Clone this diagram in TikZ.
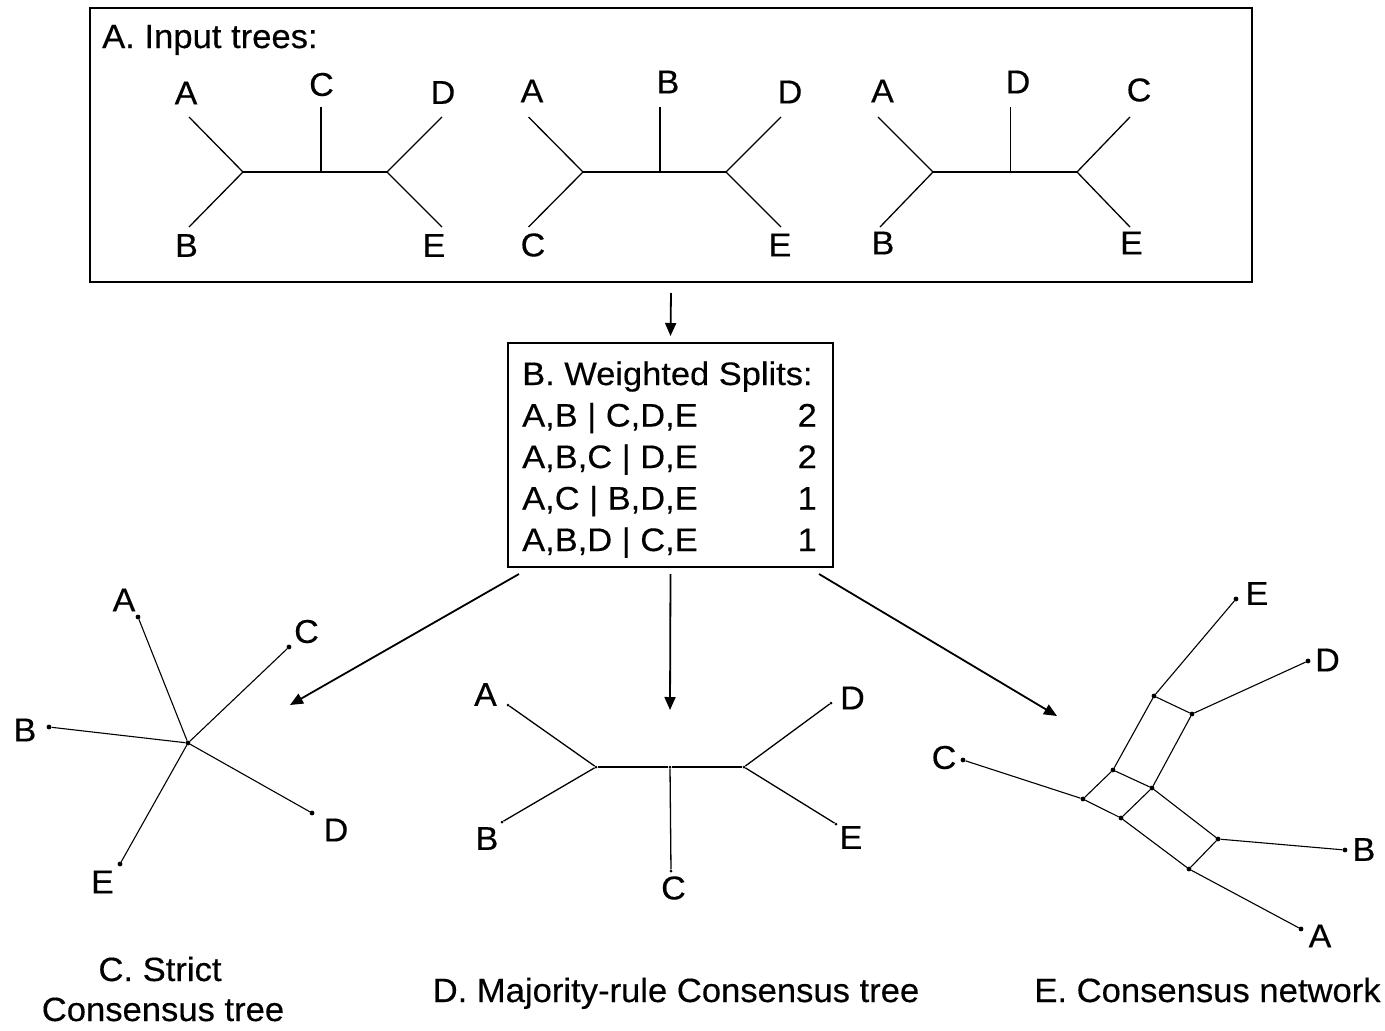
\documentclass[tikz,border=0pt]{standalone}
\usepackage{fontspec}
\setmainfont{Liberation Sans}[FakeStretch=1.03,FakeBold=0.35]
\newfontfamily\splitfont{Liberation Sans}[FakeStretch=1.06,FakeBold=0.35]
\usetikzlibrary{arrows.meta}
\begin{document}
\begin{tikzpicture}[x=1pt,y=-1pt,
  lbl/.style={inner sep=0pt, font=\fontsize{33}{39}\selectfont},
  captxt/.style={inner sep=0pt, anchor=base, font=\fontsize{33.6}{40}\selectfont},
  spl/.style={inner sep=0pt, font=\splitfont\fontsize{32.5}{38}\selectfont},
  br/.style={line width=1.3pt},
  tn/.style={line width=1.1pt},
  dot/.style={circle, fill, inner sep=0pt, minimum size=4.8pt},
  sdot/.style={circle, fill, inner sep=0pt, minimum size=3pt},
  arr/.style={line width=1.8pt, -{Triangle[length=13pt,width=11pt]}},
  frame/.style={draw, line width=2pt, inner sep=0pt}
]
\useasboundingbox (0,0) rectangle (1385,1031);

% ---------- Box A ----------
\node[frame, minimum width=1162pt, minimum height=274pt] (boxA) at (671,145) {};
\node[captxt, anchor=base west] (titleA) at (102,48) {A. Input trees:};

% tree 1
\coordinate (t1A) at (189,117); \coordinate (t1B) at (189,227);
\coordinate (t1L) at (243,172); \coordinate (t1M) at (321,172);
\coordinate (t1T) at (321,107); \coordinate (t1R) at (387,172);
\coordinate (t1D) at (442,117); \coordinate (t1E) at (442,227);
\draw[br] (t1A) -- (t1L) -- (t1B);
\draw[br] (t1L) -- (t1R);
\draw[br] (t1M) -- (t1T);
\draw[br] (t1D) -- (t1R) -- (t1E);
\node[lbl] (l1A) at (186,93) {A};
\node[lbl] (l1C) at (321.5,84.5) {C};
\node[lbl] (l1D) at (443,92.5) {D};
\node[lbl] (l1B) at (186.5,245.5) {B};
\node[lbl] (l1E) at (434,245.5) {E};

% tree 2
\coordinate (t2A) at (528.5,117); \coordinate (t2C) at (528.5,227);
\coordinate (t2L) at (583,172); \coordinate (t2M) at (660,172);
\coordinate (t2T) at (660,107); \coordinate (t2R) at (726,172);
\coordinate (t2D) at (781,117); \coordinate (t2E) at (781,227);
\draw[br] (t2A) -- (t2L) -- (t2C);
\draw[br] (t2L) -- (t2R);
\draw[br] (t2M) -- (t2T);
\draw[br] (t2D) -- (t2R) -- (t2E);
\node[lbl] (l2A) at (532,91) {A};
\node[lbl] (l2B) at (668,82) {B};
\node[lbl] (l2D) at (790,92) {D};
\node[lbl] (l2C) at (533,245) {C};
\node[lbl] (l2E) at (780,245) {E};

% tree 3
\coordinate (t3A) at (878,117); \coordinate (t3B) at (880,227);
\coordinate (t3L) at (933,172); \coordinate (t3M) at (1010.5,172);
\coordinate (t3T) at (1010.5,107); \coordinate (t3R) at (1077,172);
\coordinate (t3C) at (1130,117); \coordinate (t3E) at (1130,227);
\draw[br] (t3A) -- (t3L) -- (t3B);
\draw[br] (t3L) -- (t3R);
\draw[br] (t3M) -- (t3T);
\draw[br] (t3C) -- (t3R) -- (t3E);
\node[lbl] (l3A) at (882.5,91) {A};
\node[lbl] (l3D) at (1018,82) {D};
\node[lbl] (l3C) at (1139,90) {C};
\node[lbl] (l3B) at (883,243) {B};
\node[lbl] (l3E) at (1131.5,243) {E};

% ---------- Box B ----------
\node[frame, minimum width=325pt, minimum height=224pt] (boxB) at (670.5,455) {};
\node[spl, anchor=base west] (bT) at (522,385) {B. Weighted Splits:};
\node[spl, anchor=base west] (b1) at (522,426.5) {A,B | C,D,E};
\node[spl, anchor=base west] (b2) at (522,468) {A,B,C | D,E};
\node[spl, anchor=base west] (b3) at (522,509.5) {A,C | B,D,E};
\node[spl, anchor=base west] (b4) at (522,551) {A,B,D | C,E};
\node[spl, anchor=base east] (w1) at (817,426.5) {2};
\node[spl, anchor=base east] (w2) at (817,468) {2};
\node[spl, anchor=base east] (w3) at (817,509.5) {1};
\node[spl, anchor=base east] (w4) at (817,551) {1};

% ---------- arrows ----------
\draw[arr] ([yshift=-10pt]boxA.south) -- ([yshift=6pt]boxB.north);
\coordinate (cEnd) at (290,705);
\coordinate (dEnd) at (670,710);
\coordinate (eEnd) at (1057,716);
\draw[arr] ([xshift=12pt,yshift=-6pt]boxB.south west) -- (cEnd);
\draw[arr] ([yshift=-6pt]boxB.south) -- (dEnd);
\draw[arr] ([xshift=-15pt,yshift=-6pt]boxB.south east) -- (eEnd);

% ---------- C. strict consensus ----------
\node[dot] (sc) at (188,743) {};
\node[dot] (sA) at (138,617) {};
\node[dot] (sC) at (289,647) {};
\node[dot] (sB) at (49,727) {};
\node[dot] (sD) at (312,813) {};
\node[dot] (sE) at (120,864) {};
\foreach \n in {sA,sB,sC,sD,sE} \draw[tn] (sc) -- (\n);
\node[lbl] (lsA) at (124,600) {A};
\node[lbl] (lsC) at (306.5,631.5) {C};
\node[lbl] (lsB) at (25,730) {B};
\node[lbl] (lsD) at (336,830) {D};
\node[lbl] (lsE) at (102.5,882) {E};
\node[captxt] (capC1) at (160,981) {C. Strict};
\node[captxt] (capC2) at (163,1021) {Consensus tree};

% ---------- D. majority-rule ----------
\node[sdot] (mL) at (596,767) {};
\node[sdot] (mM) at (670,767) {};
\node[sdot] (mR) at (744,767) {};
\node[sdot] (mA) at (508,705) {};
\node[sdot] (mB) at (502,822) {};
\node[sdot] (mC) at (671,871) {};
\node[sdot] (mD) at (831,703) {};
\node[sdot] (mE) at (836,824) {};
\draw[br] (mA) -- (mL) -- (mB);
\draw[br] (mL) -- (mM) -- (mR);
\draw[br] (mM) -- (mC);
\draw[br] (mD) -- (mR) -- (mE);
\node[lbl] (lmA) at (485.5,694.5) {A};
\node[lbl] (lmB) at (487,838.5) {B};
\node[lbl] (lmC) at (673.5,888) {C};
\node[lbl] (lmD) at (852.5,698) {D};
\node[lbl] (lmE) at (851,837.5) {E};
\node[captxt] (capD) at (676,1002) {D. Majority-rule Consensus tree};

% ---------- E. consensus network ----------
\node[dot] (nE) at (1236,599) {};
\node[dot] (nD) at (1308,661) {};
\node[dot] (nC) at (963,760) {};
\node[dot] (nB) at (1345,850) {};
\node[dot] (nA) at (1301,929) {};
\node[dot] (n1) at (1154,696) {};
\node[dot] (n2) at (1192,714) {};
\node[dot] (n3) at (1113,770) {};
\node[dot] (n4) at (1152,788) {};
\node[dot] (n5) at (1083,799) {};
\node[dot] (n6) at (1121,818) {};
\node[dot] (n7) at (1218,839) {};
\node[dot] (n8) at (1189,869) {};
\draw[tn] (nE) -- (n1) -- (n2) -- (nD);
\draw[tn] (n1) -- (n3) -- (n4) -- (n2);
\draw[tn] (nC) -- (n5) -- (n3);
\draw[tn] (n5) -- (n6) -- (n4);
\draw[tn] (n4) -- (n7) -- (n8) -- (n6);
\draw[tn] (n7) -- (nB);
\draw[tn] (n8) -- (nA);
\node[lbl] (lnE) at (1257,593.5) {E};
\node[lbl] (lnD) at (1327.5,660) {D};
\node[lbl] (lnC) at (944,757.5) {C};
\node[lbl] (lnB) at (1364,849.5) {B};
\node[lbl] (lnA) at (1320,936) {A};
\node[captxt] (capE) at (1207.5,1002) {E. Consensus network};
\end{tikzpicture}
\end{document}
